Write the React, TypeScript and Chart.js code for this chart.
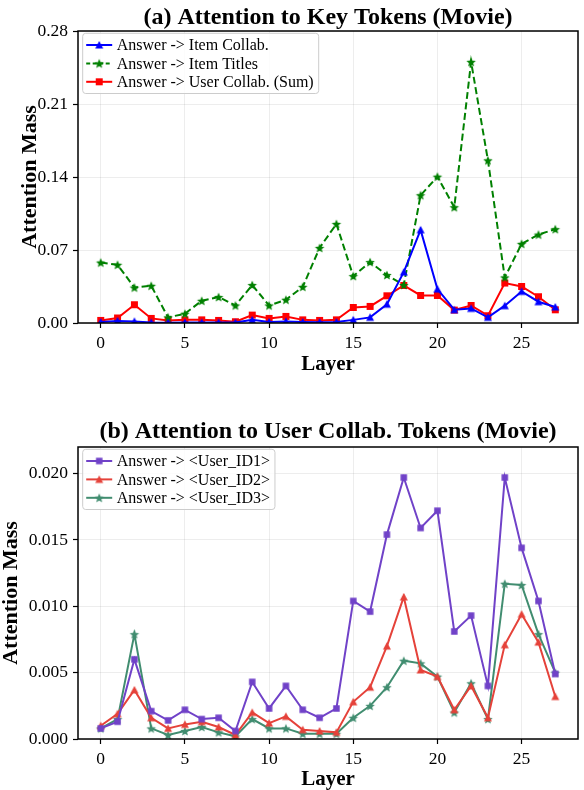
import React, { useEffect, useRef } from 'react';
import { Chart, registerables } from 'chart.js';
Chart.register(...registerables);

const layers = [0, 1, 2, 3, 4, 5, 6, 7, 8, 9, 10, 11, 12, 13, 14, 15, 16, 17, 18, 19, 20, 21, 22, 23, 24, 25, 26, 27];

const itemCollab = [0.001, 0.002, 0.0015, 0.0005, 0.0003, 0.0005, 0.0005, 0.0005, 0.0004, 0.003, 0.001, 0.0015, 0.001, 0.0008, 0.001, 0.003, 0.0054, 0.018, 0.0488, 0.0893, 0.0325, 0.0127, 0.014, 0.0054, 0.0166, 0.0303, 0.0204, 0.0153];
const itemTitles = [0.058, 0.0558, 0.034, 0.0357, 0.0054, 0.0089, 0.0213, 0.0249, 0.0168, 0.0364, 0.0168, 0.0223, 0.0347, 0.072, 0.095, 0.045, 0.0584, 0.046, 0.0364, 0.1225, 0.1403, 0.111, 0.2504, 0.156, 0.0437, 0.0759, 0.0848, 0.09];
const userCollabSum = [0.0025, 0.0048, 0.0175, 0.0044, 0.0025, 0.003, 0.003, 0.0025, 0.0012, 0.0076, 0.0044, 0.0063, 0.003, 0.0025, 0.003, 0.0149, 0.0159, 0.0261, 0.036, 0.0264, 0.0264, 0.0124, 0.0168, 0.007, 0.0383, 0.035, 0.0252, 0.0127];

const userID1 = [0.0008, 0.0013, 0.006, 0.0021, 0.0014, 0.0022, 0.0015, 0.0016, 0.0006, 0.0043, 0.0023, 0.004, 0.0022, 0.0016, 0.0023, 0.0104, 0.0096, 0.0154, 0.0197, 0.0159, 0.0172, 0.0081, 0.0093, 0.004, 0.0197, 0.0144, 0.0104, 0.0049];
const userID2 = [0.001, 0.0019, 0.0037, 0.0016, 0.0008, 0.0011, 0.0013, 0.0009, 0.0003, 0.002, 0.0012, 0.0017, 0.0007, 0.0006, 0.0005, 0.0028, 0.0039, 0.007, 0.0107, 0.0052, 0.0047, 0.0022, 0.004, 0.0016, 0.0071, 0.0094, 0.0073, 0.0032];
const userID3 = [0.0008, 0.0015, 0.0079, 0.0008, 0.0003, 0.0006, 0.0009, 0.0005, 0.0002, 0.0015, 0.0008, 0.0008, 0.0004, 0.0004, 0.0004, 0.0016, 0.0025, 0.0039, 0.0059, 0.0057, 0.0047, 0.002, 0.0042, 0.0015, 0.0117, 0.0116, 0.0079, 0.005];

const xTicks = [0, 5, 10, 15, 20, 25];
const topYTicks = [0, 0.07, 0.14, 0.21, 0.28];
const bottomYTicks = [0, 0.005, 0.01, 0.015, 0.02];

const titleA = '(a) Attention to Key Tokens (Movie)';
const titleB = '(b) Attention to User Collab. Tokens (Movie)';
const labelsA = ['Answer -> Item Collab.', 'Answer -> Item Titles', 'Answer -> User Collab. (Sum)'];
const labelsB = ['Answer -> <User_ID1>', 'Answer -> <User_ID2>', 'Answer -> <User_ID3>'];
const xTitle = 'Layer';
const yTitle = 'Attention Mass';

const SERIF = '"Liberation Serif", "Times New Roman", serif';
const W = 584;
const H = 395;

type Kind = 'square' | 'triangle' | 'star';

function makeMarker(kind: Kind, color: string, size: number): HTMLCanvasElement {
  const s = Math.ceil(size) + 2;
  const c = document.createElement('canvas');
  c.width = s;
  c.height = s;
  const ctx = c.getContext('2d')!;
  ctx.fillStyle = color;
  const cx = s / 2;
  const cy = s / 2;
  const r = size / 2;
  ctx.beginPath();
  if (kind === 'square') {
    ctx.rect(cx - r, cy - r, 2 * r, 2 * r);
  } else if (kind === 'triangle') {
    ctx.moveTo(cx, cy - r);
    ctx.lineTo(cx + r, cy + r * 0.85);
    ctx.lineTo(cx - r, cy + r * 0.85);
    ctx.closePath();
  } else {
    for (let i = 0; i < 10; i++) {
      const a = -Math.PI / 2 + (i * Math.PI) / 5;
      const rad = i % 2 === 0 ? r : r * 0.45;
      const px = cx + rad * Math.cos(a);
      const py = cy + 0.5 + rad * Math.sin(a);
      if (i === 0) ctx.moveTo(px, py);
      else ctx.lineTo(px, py);
    }
    ctx.closePath();
  }
  ctx.fill();
  return c;
}

interface SeriesDef {
  label: string;
  values: number[];
  color: string;
  marker: HTMLCanvasElement;
  dash: number[];
}

function decoPlugin(title: string, baseline: number, series: SeriesDef[]) {
  return {
    id: 'deco',
    afterDatasetsDraw(chart: any) {
      const { ctx, chartArea: a } = chart;
      ctx.save();
      ctx.strokeStyle = '#000';
      ctx.lineWidth = 1.5;
      ctx.strokeRect(a.left, a.top, a.right - a.left, a.bottom - a.top);
      ctx.restore();
    },
    afterDraw(chart: any) {
      const { ctx, chartArea: a } = chart;
      ctx.save();
      ctx.fillStyle = '#000';
      ctx.font = `bold 24px ${SERIF}`;
      ctx.textAlign = 'center';
      ctx.textBaseline = 'alphabetic';
      ctx.fillText(title, (a.left + a.right) / 2, baseline);

      // legend
      ctx.font = `16px ${SERIF}`;
      const x0 = a.left + 4.7;
      const y0 = a.top + 2.3;
      const row = 18.4;
      const first = 11.7;
      let maxW = 0;
      series.forEach((s) => {
        maxW = Math.max(maxW, ctx.measureText(s.label).width);
      });
      const textX = x0 + 34;
      const boxW = textX - x0 + maxW + 5;
      const boxH = first * 2 + row * (series.length - 1);
      ctx.beginPath();
      const rr = 3;
      ctx.moveTo(x0 + rr, y0);
      ctx.arcTo(x0 + boxW, y0, x0 + boxW, y0 + boxH, rr);
      ctx.arcTo(x0 + boxW, y0 + boxH, x0, y0 + boxH, rr);
      ctx.arcTo(x0, y0 + boxH, x0, y0, rr);
      ctx.arcTo(x0, y0, x0 + boxW, y0, rr);
      ctx.closePath();
      ctx.fillStyle = 'rgba(255,255,255,0.8)';
      ctx.fill();
      ctx.strokeStyle = '#cccccc';
      ctx.lineWidth = 1;
      ctx.stroke();
      series.forEach((s, i) => {
        const cy = y0 + first + i * row;
        ctx.beginPath();
        ctx.strokeStyle = s.color;
        ctx.lineWidth = 2;
        ctx.setLineDash(s.dash.length ? [4, 2.5] : []);
        ctx.moveTo(x0 + 3.5, cy);
        ctx.lineTo(x0 + 29.5, cy);
        ctx.stroke();
        ctx.setLineDash([]);
        const m = s.marker;
        ctx.drawImage(m, x0 + 16.5 - m.width / 2, cy - m.height / 2);
        ctx.fillStyle = '#000';
        ctx.textAlign = 'left';
        ctx.textBaseline = 'middle';
        ctx.fillText(s.label, textX, cy + 1);
      });
      ctx.restore();
    },
  };
}

function buildChart(
  canvas: HTMLCanvasElement,
  series: SeriesDef[],
  yTicks: number[],
  yMax: number,
  decimals: number,
  areaTop: number,
  areaBottom: number,
  xTitlePadBottom: number,
  yTitlePadTop: number,
  title: string,
  titleBaseline: number
) {
  const datasets = series.map((s) => ({
    label: s.label,
    data: layers.map((l, i) => ({ x: l, y: s.values[i] })),
    borderColor: s.color,
    backgroundColor: s.color,
    borderWidth: 2,
    borderDash: s.dash,
    pointStyle: s.marker,
    pointRadius: 4,
    pointHoverRadius: 4,
    tension: 0,
    fill: false,
  }));
  return new Chart(canvas, {
    type: 'line',
    data: { datasets },
    plugins: [decoPlugin(title, titleBaseline, series)],
    options: {
      responsive: false,
      animation: false,
      devicePixelRatio: 1,
      events: [],
      layout: { padding: { top: areaTop, right: 3, left: 0, bottom: 0 } },
      plugins: {
        legend: { display: false },
        title: { display: false },
        tooltip: { enabled: false },
      },
      scales: {
        x: {
          type: 'linear',
          min: -1.35,
          max: 28.35,
          afterBuildTicks: (scale: any) => {
            scale.ticks = xTicks.map((v) => ({ value: v }));
          },
          afterFit: (scale: any) => {
            scale.height = H - areaBottom;
            scale.paddingLeft = 0;
            scale.paddingRight = 0;
          },
          ticks: {
            font: { family: SERIF, size: 17.5 },
            color: '#000',
            padding: 5,
            maxRotation: 0,
            callback: (v: any) => String(v),
          },
          grid: {
            color: 'rgba(0,0,0,0.09)',
            lineWidth: 0.8,
            tickColor: '#000',
            tickLength: 5,
            tickWidth: 1.2,
          },
          border: { display: false },
          title: {
            display: true,
            text: xTitle,
            font: { family: SERIF, size: 21, weight: 'bold' },
            color: '#000',
            padding: { top: 0, bottom: xTitlePadBottom },
          },
        },
        y: {
          type: 'linear',
          min: 0,
          max: yMax,
          afterBuildTicks: (scale: any) => {
            scale.ticks = yTicks.map((v) => ({ value: v }));
          },
          afterFit: (scale: any) => {
            scale.width = 78;
            scale.paddingTop = 0;
            scale.paddingBottom = 0;
          },
          ticks: {
            font: { family: SERIF, size: 17.5 },
            color: '#000',
            padding: 5,
            callback: (v: any) => Number(v).toFixed(decimals),
          },
          grid: {
            color: 'rgba(0,0,0,0.09)',
            lineWidth: 0.8,
            tickColor: '#000',
            tickLength: 5,
            tickWidth: 1.2,
          },
          border: { display: false },
          title: {
            display: true,
            text: yTitle,
            font: { family: SERIF, size: 22, weight: 'bold' },
            color: '#000',
            padding: { top: yTitlePadTop, bottom: 0 },
          },
        },
      },
    } as any,
  });
}

export default function App() {
  const topRef = useRef<HTMLCanvasElement>(null);
  const botRef = useRef<HTMLCanvasElement>(null);

  useEffect(() => {
    const seriesA: SeriesDef[] = [
      { label: labelsA[0], values: itemCollab, color: '#0000ff', marker: makeMarker('triangle', '#0000ff', 8), dash: [] },
      { label: labelsA[1], values: itemTitles, color: '#008000', marker: makeMarker('star', '#008000', 10), dash: [7, 3.5] },
      { label: labelsA[2], values: userCollabSum, color: '#ff0000', marker: makeMarker('square', '#ff0000', 7), dash: [] },
    ];
    const seriesB: SeriesDef[] = [
      { label: labelsB[0], values: userID1, color: '#7042c8', marker: makeMarker('square', '#7042c8', 6.5), dash: [] },
      { label: labelsB[1], values: userID2, color: '#e5423a', marker: makeMarker('triangle', '#e5423a', 8), dash: [] },
      { label: labelsB[2], values: userID3, color: '#418d70', marker: makeMarker('star', '#418d70', 10), dash: [] },
    ];
    const c1 = buildChart(topRef.current!, seriesA, topYTicks, 0.28, 2, 31, 323, 17.5, 17.5, titleA, 23.5);
    const c2 = buildChart(botRef.current!, seriesB, bottomYTicks, 0.022, 3, 52, 344, -2.5, -1.5, titleB, 42.5);
    return () => {
      c1.destroy();
      c2.destroy();
    };
  }, []);

  return (
    <div style={{ position: 'fixed', left: 0, top: 0, width: W, height: 790, background: '#fff' }}>
      <canvas ref={topRef} width={W} height={H} style={{ display: 'block', width: W, height: H }} />
      <canvas ref={botRef} width={W} height={H} style={{ display: 'block', width: W, height: H }} />
    </div>
  );
}
